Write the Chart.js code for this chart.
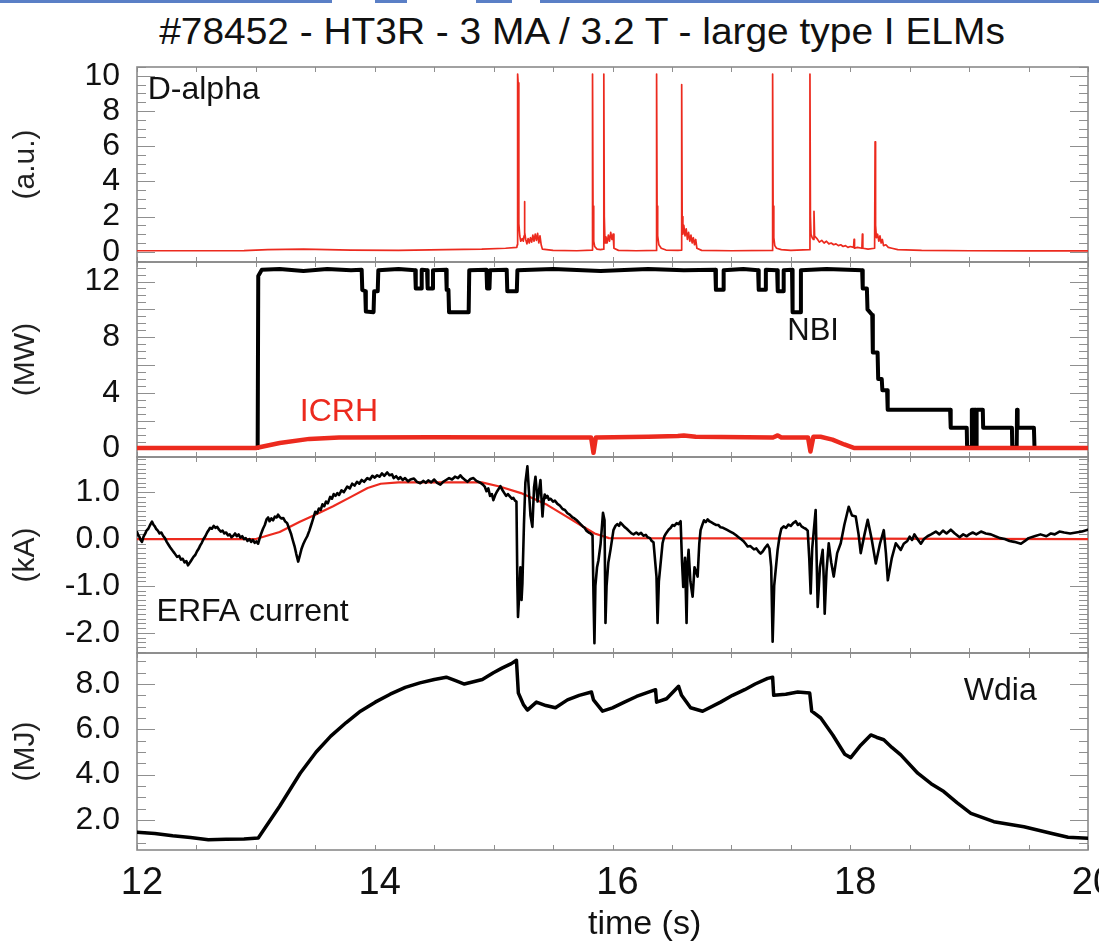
<!DOCTYPE html>
<html>
<head>
<meta charset="utf-8">
<script src="https://cdn.jsdelivr.net/npm/chart.js@4.4.1/dist/chart.umd.min.js"></script>
<style>
  html, body { margin: 0; padding: 0; background: #fff; width: 1099px; height: 950px; overflow: hidden; }
  #wrap { position: relative; width: 1099px; height: 950px; overflow: hidden; }
  #wrap canvas { position: absolute; left: 0; }
  .strip { position: absolute; top: 0; height: 3px; background: #5a7fc6; }
  #title {
    position: absolute; left: 0; top: 11px; width: 1164px; text-align: center;
    font-family: 'Liberation Sans', Arial, Helvetica, sans-serif; font-size: 36px; line-height: 42px;
    color: #111; white-space: nowrap; transform: scaleX(1.08); transform-origin: 582px 50%;
  }
</style>
</head>
<body>
<div id="wrap">
  <div class="strip" style="left:0;width:332px"></div>
  <div class="strip" style="left:375px;width:32px"></div>
  <div class="strip" style="left:476px;width:36px"></div>
  <div class="strip" style="left:540px;width:559px"></div>
  <div id="title">#78452 - HT3R - 3 MA / 3.2 T - large type I ELMs</div>
  <canvas id="cDalpha" width="1140" height="285" style="top:22px"></canvas>
  <canvas id="cPower" width="1140" height="285" style="top:217px"></canvas>
  <canvas id="cErfa" width="1140" height="286" style="top:412px"></canvas>
  <canvas id="cWdia" width="1140" height="342" style="top:608px"></canvas>
</div>
<script>
const FONT = "'Liberation Sans', Arial, Helvetica, sans-serif";
const RED = '#ec2a1e';

// shared time axis (s)
const timeRange = [12, 20];
const timeTicks = [12, 14, 16, 18, 20];

// tick labels of each panel
const dalphaTicks = [0, 2, 4, 6, 8, 10];
const powerTicks = [0, 4, 8, 12];
const erfaTicks = [-2, -1, 0, 1];
const wdiaTicks = [2, 4, 6, 8];

// D-alpha emission (a.u.), [time, value]
const dalpha = [
  [12.0,0.06],[12.5,0.06],[12.9,0.07],[13.1,0.12],[13.4,0.15],[13.8,0.10],[14.2,0.08],[14.6,0.12],[14.9,0.15],[15.1,0.2],
  [15.195,0.25],[15.199,0.4],[15.202,10.1],[15.206,9.6],[15.212,1.6],[15.22,0.9],[15.228,0.6],[15.24,0.75],[15.25,0.6],[15.256,0.9],
  [15.259,2.85],[15.263,1.1],[15.27,0.7],[15.28,0.45],[15.29,0.75],[15.30,0.5],[15.31,0.8],[15.32,0.55],[15.33,0.95],[15.34,0.6],
  [15.35,1.0],[15.36,0.65],[15.37,1.05],[15.38,0.5],[15.39,0.9],[15.40,0.4],[15.41,0.15],[15.5,0.08],[15.7,0.06],
  [15.828,0.1],[15.832,10.1],[15.836,2.6],[15.842,0.6],[15.85,0.3],[15.87,0.15],[15.9,0.12],
  [15.923,0.15],[15.927,10.1],[15.931,2.0],[15.937,0.5],[15.945,0.85],[15.955,0.5],[15.965,0.95],[15.975,0.6],[15.985,1.1],[15.995,0.7],
  [16.005,1.0],[16.012,0.2],[16.05,0.08],[16.2,0.06],
  [16.367,0.08],[16.371,10.1],[16.375,2.6],[16.38,0.9],[16.39,0.4],[16.41,0.2],[16.45,0.1],[16.55,0.08],
  [16.578,0.1],[16.582,9.5],[16.586,2.0],[16.592,1.0],[16.60,1.5],[16.61,0.9],[16.62,1.3],[16.63,0.7],[16.64,1.1],[16.65,0.6],
  [16.66,0.95],[16.67,0.5],[16.68,0.8],[16.69,0.4],[16.70,0.7],[16.71,0.2],[16.75,0.08],[17.0,0.06],
  [17.343,0.08],[17.347,10.1],[17.351,2.6],[17.357,0.8],[17.365,0.35],[17.38,0.2],[17.42,0.12],[17.5,0.08],
  [17.657,0.12],[17.661,10.1],[17.665,2.0],[17.67,1.0],[17.68,0.8],[17.69,0.7],[17.695,2.3],[17.70,0.9],[17.72,0.75],[17.74,0.55],
  [17.76,0.65],[17.78,0.5],[17.80,0.6],[17.82,0.45],[17.84,0.5],[17.86,0.4],[17.88,0.45],[17.90,0.35],[17.92,0.4],[17.94,0.3],
  [17.96,0.35],[17.98,0.25],[18.00,0.3],[18.028,0.25],[18.032,0.7],[18.036,0.2],[18.06,0.25],[18.098,0.2],[18.102,1.0],[18.106,0.2],
  [18.15,0.15],[18.205,0.2],[18.209,6.25],[18.213,1.5],[18.22,0.8],[18.23,1.0],[18.24,0.6],[18.25,0.9],[18.26,0.5],[18.27,0.7],
  [18.28,0.35],[18.30,0.4],[18.32,0.25],[18.35,0.2],[18.4,0.12],[18.6,0.08],[19.0,0.06],[19.5,0.05],[20.0,0.05]
];

// neutral beam power (MW)
const nbi = [
  [12.0,0.05],[13.015,0.05],[13.02,12.4],[13.05,12.85],[13.2,12.9],[13.4,12.75],[13.6,12.9],[13.8,12.8],
  [13.89,12.85],[13.895,11.4],[13.92,11.3],[13.925,9.85],[13.99,9.8],[13.995,11.3],[14.025,11.3],[14.03,12.8],[14.2,12.9],
  [14.34,12.8],[14.345,11.5],[14.39,11.5],[14.395,12.85],[14.44,12.8],[14.445,11.5],[14.485,11.5],[14.49,12.8],
  [14.60,12.85],[14.605,11.4],[14.62,11.4],[14.625,9.8],[14.79,9.8],[14.795,12.8],
  [14.94,12.85],[14.945,11.5],[14.965,11.5],[14.97,12.8],[15.11,12.85],[15.115,11.3],[15.195,11.3],[15.2,12.8],
  [15.5,12.9],[15.9,12.75],[16.3,12.9],[16.6,12.8],
  [16.865,12.85],[16.87,11.4],[16.93,11.4],[16.935,12.8],[17.1,12.9],[17.225,12.8],[17.23,11.4],[17.285,11.4],[17.29,12.85],
  [17.385,12.8],[17.39,11.3],[17.435,11.3],[17.44,12.8],[17.51,12.85],[17.515,9.8],[17.58,9.8],[17.585,12.8],[17.8,12.9],
  [18.10,12.8],[18.105,11.5],[18.14,11.5],[18.145,10.0],[18.185,9.6],[18.19,6.9],[18.23,6.9],[18.235,5.0],[18.265,5.0],
  [18.27,4.2],[18.31,4.2],[18.315,2.8],[18.84,2.8],[18.845,1.5],[18.98,1.5],[18.983,0.1],[19.02,0.1],[19.023,2.8],
  [19.05,2.8],[19.053,0.1],[19.06,0.1],[19.063,2.8],[19.115,2.8],[19.118,1.5],[19.36,1.5],[19.363,0.1],[19.40,0.1],
  [19.403,2.8],[19.408,1.5],[19.545,1.5],[19.55,0.05],[20.0,0.05]
];

// ion cyclotron heating power (MW)
const icrh = [
  [12.0,0.05],[13.0,0.05],[13.2,0.4],[13.45,0.7],[13.7,0.8],[14.5,0.82],[15.5,0.8],[15.82,0.8],[15.84,-0.3],[15.86,0.8],
  [16.3,0.85],[16.55,0.9],[16.6,0.95],[16.7,0.85],[17.35,0.8],[17.39,0.95],[17.42,0.8],[17.645,0.8],[17.665,-0.2],[17.69,0.85],
  [17.75,0.85],[17.85,0.65],[17.95,0.3],[18.03,0.05],[20.0,0.05]
];

// ERFA current (kA), measured
const erfa = [
  [12.00,0.15],[12.01,0.08],[12.02,0.05],[12.03,-0.02],[12.042,-0.06],[12.055,0.05],[12.07,0.12],[12.08,0.18],[12.095,0.22],[12.11,0.3],
  [12.126,0.37],[12.14,0.3],[12.15,0.27],[12.16,0.22],[12.175,0.18],[12.19,0.12],[12.205,0.14],[12.219,0.07],[12.235,0.02],[12.25,-0.06],
  [12.265,-0.12],[12.28,-0.18],[12.30,-0.25],[12.315,-0.3],[12.337,-0.38],[12.355,-0.36],[12.37,-0.44],[12.385,-0.42],[12.40,-0.5],[12.415,-0.47],
  [12.429,-0.56],[12.445,-0.5],[12.46,-0.44],[12.475,-0.38],[12.49,-0.34],[12.505,-0.26],[12.52,-0.2],[12.531,-0.14],[12.545,-0.08],[12.56,0.0],
  [12.575,0.06],[12.59,0.14],[12.605,0.2],[12.615,0.24],[12.63,0.22],[12.645,0.28],[12.66,0.24],[12.675,0.26],[12.69,0.2],[12.705,0.16],
  [12.72,0.18],[12.735,0.12],[12.75,0.14],[12.765,0.08],[12.78,0.1],[12.795,0.04],[12.81,0.07],[12.825,0.12],[12.84,0.06],[12.855,0.1],
  [12.87,0.03],[12.885,0.06],[12.9,0.0],[12.915,0.02],[12.93,-0.04],[12.945,0.0],[12.96,-0.06],[12.975,-0.02],[12.99,-0.08],[13.005,-0.05],
  [13.019,-0.1],[13.03,0.0],[13.045,0.12],[13.06,0.22],[13.075,0.3],[13.09,0.42],[13.103,0.46],[13.115,0.38],[13.13,0.44],[13.145,0.4],
  [13.16,0.48],[13.175,0.46],[13.187,0.52],[13.2,0.47],[13.215,0.44],[13.23,0.45],[13.245,0.38],[13.263,0.34],[13.28,0.22],[13.295,0.12],
  [13.31,-0.02],[13.325,-0.15],[13.34,-0.32],[13.356,-0.48],[13.37,-0.35],[13.385,-0.2],[13.40,-0.1],[13.415,-0.02],[13.432,0.06],[13.45,0.18],
  [13.465,0.3],[13.48,0.42],[13.499,0.58],[13.515,0.55],[13.53,0.65],[13.545,0.62],[13.56,0.74],[13.575,0.7],[13.59,0.8],[13.605,0.76],
  [13.625,0.9],[13.64,0.86],[13.655,0.96],[13.67,0.92],[13.685,0.98],[13.7,0.94],[13.72,1.04],[13.74,1.0],[13.768,1.12],[13.79,1.08],
  [13.81,1.18],[13.83,1.14],[13.85,1.22],[13.87,1.18],[13.89,1.26],[13.91,1.22],[13.937,1.3],[13.96,1.27],[13.98,1.35],[14.0,1.31],
  [14.02,1.36],[14.04,1.33],[14.06,1.4],[14.08,1.35],[14.105,1.42],[14.125,1.36],[14.145,1.38],[14.16,1.3],[14.18,1.34],[14.2,1.28],
  [14.215,1.32],[14.235,1.26],[14.255,1.3],[14.28,1.23],[14.3,1.27],[14.33,1.29],[14.355,1.22],[14.383,1.19],[14.41,1.24],[14.43,1.2],
  [14.45,1.25],[14.475,1.21],[14.5,1.27],[14.525,1.2],[14.552,1.16],[14.575,1.22],[14.6,1.26],[14.625,1.3],[14.65,1.27],[14.675,1.33],
  [14.7,1.3],[14.72,1.36],[14.74,1.3],[14.76,1.26],[14.78,1.22],[14.805,1.28],[14.83,1.3],[14.855,1.24],[14.888,1.2],[14.91,1.16],
  [14.925,1.12],[14.94,1.02],[14.955,1.08],[14.97,0.92],[14.985,0.96],[14.998,0.83],[15.015,0.95],[15.03,1.02],[15.045,1.08],[15.057,1.13],
  [15.075,1.04],[15.09,0.98],[15.105,0.92],[15.12,0.96],[15.14,0.9],[15.155,0.86],[15.166,0.88],[15.18,0.82],[15.192,0.8],
  [15.2,-1.0],[15.205,-1.66],[15.215,-1.2],[15.225,-0.6],[15.235,-1.3],[15.242,-0.95],[15.255,0.3],[15.267,1.2],[15.284,1.55],
  [15.30,0.9],[15.31,0.5],[15.326,0.26],[15.34,1.1],[15.352,1.33],[15.37,0.8],[15.394,1.26],[15.411,0.48],[15.42,0.8],[15.43,0.95],
  [15.44,0.88],[15.453,0.92],[15.465,0.84],[15.48,0.86],[15.5,0.8],[15.515,0.82],[15.537,0.75],[15.555,0.72],[15.58,0.64],[15.6,0.62],
  [15.621,0.55],[15.64,0.52],[15.66,0.47],[15.68,0.44],[15.7,0.4],[15.715,0.36],[15.731,0.32],[15.75,0.27],[15.765,0.24],[15.78,0.18],
  [15.8,0.14],[15.815,0.12],[15.832,0.08],[15.84,-1.2],[15.848,-2.22],[15.856,-1.0],[15.87,-0.6],[15.882,-0.45],[15.90,-0.1],[15.92,0.56],
  [15.933,0.4],[15.941,-1.79],[15.95,-1.0],[15.965,-0.5],[15.983,-0.23],[16.008,0.19],[16.025,0.28],[16.04,0.32],[16.055,0.28],[16.067,0.35],
  [16.085,0.3],[16.1,0.26],[16.12,0.22],[16.14,0.17],[16.16,0.12],[16.177,0.1],[16.2,0.14],[16.22,0.1],[16.24,0.13],[16.26,0.07],
  [16.28,0.09],[16.295,0.04],[16.315,0.02],[16.33,-0.04],[16.345,-0.07],[16.37,-0.8],[16.379,-1.79],[16.39,-0.9],[16.421,-0.09],[16.435,0.05],
  [16.45,0.12],[16.472,0.2],[16.49,0.24],[16.505,0.3],[16.52,0.28],[16.54,0.34],[16.555,0.32],[16.573,0.38],[16.585,-0.5],[16.595,-1.02],
  [16.61,-0.4],[16.623,-1.79],[16.632,-0.5],[16.64,-0.23],[16.655,-0.9],[16.674,-1.23],[16.69,-0.6],[16.716,-0.8],[16.73,-0.1],[16.741,0.19],
  [16.755,0.3],[16.77,0.4],[16.785,0.36],[16.8,0.42],[16.815,0.38],[16.83,0.36],[16.85,0.33],[16.87,0.3],[16.89,0.3],[16.909,0.25],
  [16.93,0.24],[16.96,0.2],[16.99,0.16],[17.019,0.12],[17.04,0.08],[17.06,0.04],[17.08,0.0],[17.1,-0.04],[17.12,-0.1],[17.137,-0.16],
  [17.16,-0.15],[17.19,-0.22],[17.21,-0.2],[17.23,-0.27],[17.246,-0.31],[17.265,-0.26],[17.285,-0.18],[17.305,-0.12],[17.32,-0.2],[17.335,-0.6],
  [17.347,-2.19],[17.36,-1.0],[17.389,-0.23],[17.405,0.05],[17.42,0.22],[17.44,0.27],[17.46,0.24],[17.48,0.31],[17.5,0.28],[17.52,0.34],
  [17.541,0.38],[17.56,0.3],[17.575,0.33],[17.59,0.27],[17.61,0.24],[17.625,0.22],[17.642,0.18],[17.655,-0.4],[17.667,-1.16],[17.68,-0.2],
  [17.709,0.62],[17.718,-0.5],[17.726,-1.45],[17.745,-0.6],[17.768,-0.23],[17.778,-0.9],[17.785,-1.59],[17.80,-0.7],[17.819,-0.09],[17.84,-0.5],
  [17.861,-0.8],[17.89,-0.3],[17.92,-0.09],[17.95,0.3],[17.987,0.69],[18.015,0.5],[18.046,0.48],[18.07,0.1],[18.088,-0.3],[18.12,0.1],
  [18.147,0.41],[18.18,0.0],[18.215,-0.52],[18.25,-0.1],[18.282,0.19],[18.30,-0.3],[18.316,-0.88],[18.35,-0.4],[18.383,-0.09],[18.425,-0.23],
  [18.45,-0.1],[18.48,-0.04],[18.5,0.05],[18.52,-0.02],[18.54,0.1],[18.56,0.02],[18.594,-0.1],[18.62,0.0],[18.65,0.06],[18.68,0.1],
  [18.72,0.16],[18.75,0.1],[18.78,0.18],[18.81,0.12],[18.846,0.2],[18.88,0.12],[18.92,0.04],[18.95,0.1],[18.98,0.06],[19.0,0.1],
  [19.03,0.14],[19.06,0.1],[19.1,0.16],[19.14,0.12],[19.183,0.1],[19.22,0.06],[19.26,0.02],[19.3,0.0],[19.34,-0.04],[19.38,-0.06],
  [19.436,-0.1],[19.47,-0.04],[19.5,0.02],[19.55,0.06],[19.6,0.1],[19.65,0.06],[19.688,0.12],[19.72,0.1],[19.76,0.16],[19.8,0.14],
  [19.85,0.12],[19.9,0.14],[19.95,0.16],[20.0,0.2]
];

// ERFA current reference waveform (kA)
const erfaRef = [
  [12.0,0.0],[13.0,0.0],[13.2,0.15],[13.37,0.37],[13.5,0.52],[13.65,0.7],[13.8,0.9],[13.94,1.09],[14.05,1.18],[14.2,1.21],
  [14.9,1.21],[15.05,1.12],[15.23,0.98],[15.45,0.73],[15.6,0.5],[15.73,0.3],[15.85,0.12],[15.97,0.02],[20.0,0.0]
];

// diamagnetic stored energy (MJ)
const wdia = [
  [12.0,1.45],[12.15,1.4],[12.3,1.3],[12.45,1.22],[12.6,1.12],[12.75,1.14],[12.9,1.16],[13.02,1.2],[13.2,2.6],[13.373,4.06],
  [13.507,5.0],[13.63,5.7],[13.76,6.3],[13.88,6.8],[14.004,7.2],[14.13,7.55],[14.257,7.85],[14.38,8.05],[14.501,8.2],[14.602,8.3],
  [14.68,8.15],[14.754,8.0],[14.83,8.1],[14.905,8.2],[14.998,8.5],[15.07,8.7],[15.149,8.9],[15.192,9.05],[15.208,7.6],[15.25,7.1],
  [15.284,6.85],[15.36,7.2],[15.44,7.05],[15.52,6.95],[15.621,7.3],[15.72,7.5],[15.823,7.65],[15.84,7.3],[15.916,6.8],[16.0,6.95],
  [16.1,7.2],[16.202,7.45],[16.362,7.75],[16.371,7.2],[16.455,7.35],[16.556,7.9],[16.581,7.5],[16.657,6.95],[16.758,6.8],[16.909,7.2],
  [17.01,7.5],[17.112,7.75],[17.2,8.0],[17.305,8.25],[17.347,8.3],[17.356,7.5],[17.457,7.55],[17.558,7.65],[17.659,7.6],[17.676,6.8],
  [17.752,6.5],[17.853,5.75],[17.954,4.9],[18.004,4.75],[18.088,5.3],[18.173,5.75],[18.22,5.65],[18.282,5.54],[18.35,5.2],[18.425,4.87],
  [18.568,4.06],[18.68,3.6],[18.787,3.25],[18.9,2.75],[19.015,2.29],[19.208,1.92],[19.461,1.7],[19.688,1.41],[19.832,1.23],[20.0,1.19]
];

const pts = arr => arr.map(([x, y]) => ({ x, y }));

// box around each panel with inward tick marks on all four sides
const frameTicks = {
  id: 'frameTicks',
  beforeDatasetsDraw(chart, args, o) {
    const { ctx, chartArea: a } = chart;
    const xs = chart.scales.x, ys = chart.scales.y;
    ctx.save();
    ctx.strokeStyle = '#8f8f8f';
    ctx.lineWidth = 1;
    ctx.beginPath();
    const yTick = (v, len) => {
      const p = Math.round(ys.getPixelForValue(v)) + 0.5;
      ctx.moveTo(a.left, p); ctx.lineTo(a.left + len, p);
      ctx.moveTo(a.right, p); ctx.lineTo(a.right - len, p);
    };
    const k0 = Math.ceil(ys.min / o.minorStep - 1e-6), k1 = Math.floor(ys.max / o.minorStep + 1e-6);
    for (let k = k0; k <= k1; k++) yTick(k * o.minorStep, 9);
    const m0 = Math.ceil(ys.min / o.majorStep - 1e-6), m1 = Math.floor(ys.max / o.majorStep + 1e-6);
    for (let k = m0; k <= m1; k++) yTick(k * o.majorStep, 18);
    for (let k = timeRange[0] * 2; k <= timeRange[1] * 2; k++) {
      const p = Math.round(xs.getPixelForValue(k / 2)) + 0.5;
      ctx.moveTo(p, a.top); ctx.lineTo(p, a.top + 5);
      ctx.moveTo(p, a.bottom); ctx.lineTo(p, a.bottom - 5);
    }
    ctx.stroke();
    ctx.lineWidth = 1.6;
    ctx.strokeStyle = '#8a8a8a';
    ctx.strokeRect(a.left, a.top, a.right - a.left, a.bottom - a.top);
    ctx.restore();
  }
};

// signal names written inside the panels
const panelNotes = {
  id: 'panelNotes',
  afterDatasetsDraw(chart, args, o) {
    const { ctx, chartArea: a } = chart;
    const xs = chart.scales.x, ys = chart.scales.y;
    ctx.save();
    ctx.textBaseline = 'middle';
    for (const n of o.items || []) {
      ctx.font = n.size + 'px ' + FONT;
      ctx.fillStyle = n.color || '#111';
      ctx.textAlign = n.align || 'left';
      const px = xs.getPixelForValue(n.x);
      const py = n.below !== undefined ? a.bottom + n.below : ys.getPixelForValue(n.y);
      ctx.fillText(n.text, px, py);
    }
    ctx.restore();
  }
};

function makePanel(id, p) {
  const padTop = 45;
  const padBottom = p.timeAxis ? 0 : 45;
  return new Chart(document.getElementById(id), {
    type: 'line',
    data: { datasets: p.datasets },
    plugins: [frameTicks, panelNotes],
    options: {
      responsive: false,
      animation: false,
      events: [],
      layout: { padding: { left: 0, right: 52, top: padTop, bottom: padBottom } },
      elements: { point: { radius: 0 }, line: { tension: 0, borderJoinStyle: 'round', borderCapStyle: 'round' } },
      plugins: {
        legend: { display: false },
        tooltip: { enabled: false },
        title: { display: false },
        frameTicks: { minorStep: p.minorStep, majorStep: p.majorStep },
        panelNotes: { items: p.notes }
      },
      scales: {
        x: {
          type: 'linear',
          min: timeRange[0], max: timeRange[1],
          display: !!p.timeAxis,
          grid: { display: false, drawTicks: false },
          border: { display: false },
          afterBuildTicks: s => { s.ticks = timeTicks.map(v => ({ value: v })); },
          afterFit: s => { if (p.timeAxis) s.height = 100; },
          ticks: {
            color: '#111', padding: 11, labelOffset: 5, maxRotation: 0, autoSkip: false,
            font: { family: FONT, size: 38 },
            callback: v => String(v)
          }
        },
        y: {
          type: 'linear',
          min: p.yMin, max: p.yMax,
          grid: { display: false, drawTicks: false },
          border: { display: false },
          afterBuildTicks: s => { s.ticks = p.yTicks.map(v => ({ value: v })); },
          afterFit: s => { s.width = 137; },
          ticks: {
            color: '#111', padding: 17, autoSkip: false,
            font: { family: FONT, size: 32 },
            callback: v => v.toFixed(p.digits)
          },
          title: {
            display: true, text: p.yTitle, color: '#222',
            font: { family: FONT, size: 30 },
            padding: { top: 8, bottom: 0 }
          }
        }
      }
    }
  });
}

makePanel('cDalpha', {
  yMin: -0.58, yMax: 10.5, yTicks: dalphaTicks, digits: 0, yTitle: '(a.u.)',
  minorStep: 0.5, majorStep: 2,
  datasets: [
    { data: pts(dalpha), borderColor: RED, borderWidth: 1.7 }
  ],
  notes: [{ text: 'D-alpha', x: 12.09, y: 9.2, size: 32 }]
});

makePanel('cPower', {
  yMin: -0.6, yMax: 13.4, yTicks: powerTicks, digits: 0, yTitle: '(MW)',
  minorStep: 0.5, majorStep: 2,
  datasets: [
    { label: 'ICRH', data: pts(icrh), borderColor: RED, borderWidth: 4.5, order: 0 },
    { label: 'NBI', data: pts(nbi), borderColor: '#000', borderWidth: 4, order: 1 }
  ],
  notes: [
    { text: 'NBI', x: 17.47, y: 8.4, size: 31 },
    { text: 'ICRH', x: 13.37, y: 2.64, size: 32, color: RED }
  ]
});

makePanel('cErfa', {
  yMin: -2.43, yMax: 1.75, yTicks: erfaTicks, digits: 1, yTitle: '(kA)',
  minorStep: 0.1, majorStep: 1,
  datasets: [
    { label: 'reference', data: pts(erfaRef), borderColor: RED, borderWidth: 2.2, order: 1 },
    { label: 'ERFA current', data: pts(erfa), borderColor: '#000', borderWidth: 2.6, order: 0 }
  ],
  notes: [{ text: 'ERFA current', x: 12.165, y: -1.56, size: 32 }]
});

makePanel('cWdia', {
  yMin: 0.67, yMax: 9.37, yTicks: wdiaTicks, digits: 1, yTitle: '(MJ)',
  minorStep: 0.5, majorStep: 2, timeAxis: true,
  datasets: [
    { label: 'Wdia', data: pts(wdia), borderColor: '#000', borderWidth: 3.5 }
  ],
  notes: [
    { text: 'Wdia', x: 18.955, y: 7.7, size: 32 },
    { text: 'time (s)', x: 16.27, below: 75, size: 34, align: 'center' }
  ]
});
</script>
</body>
</html>
